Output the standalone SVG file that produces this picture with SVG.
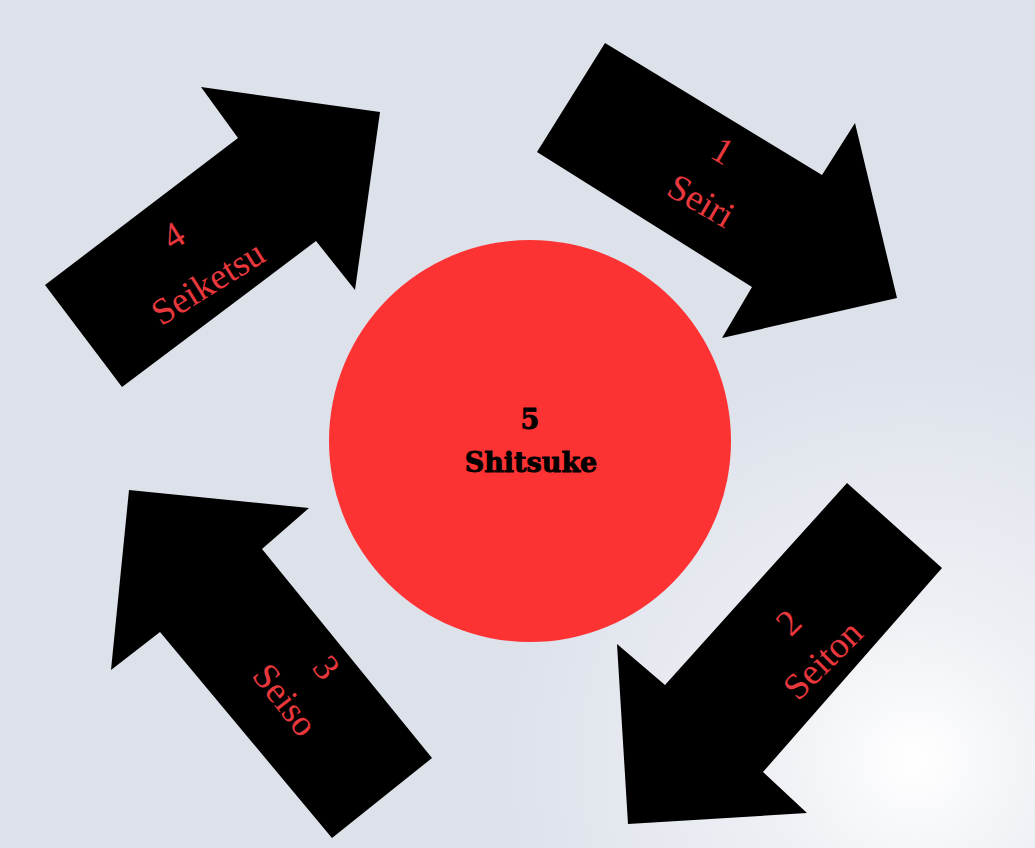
<svg xmlns="http://www.w3.org/2000/svg" width="1035" height="848" viewBox="0 0 1035 848">
  <defs>
    <radialGradient id="bgGlow" cx="915" cy="760" r="420" gradientUnits="userSpaceOnUse">
      <stop offset="0" stop-color="#ffffff"/>
      <stop offset="0.35" stop-color="#eef0f5"/>
      <stop offset="1" stop-color="#dde1ea"/>
    </radialGradient>
    <style>
      .arrow { fill: #000000; }
      .lbl { font-family: "Liberation Serif", "Times New Roman", serif; font-size: 37px; fill: #e8383d; text-anchor: middle; }
      .center { font-family: "DejaVu Serif", "Liberation Serif", serif; font-weight: bold; font-size: 27px; fill: #000000; stroke: #000000; stroke-width: 0.9; text-anchor: middle; }
    </style>
  </defs>
  <rect x="0" y="0" width="1035" height="848" fill="url(#bgGlow)"/>

  <g id="node-shitsuke">
    <circle cx="530" cy="441" r="201" fill="#fd3333"/>
    <text class="center" x="530" y="429">5</text>
    <text class="center" x="531" y="472">Shitsuke</text>
  </g>

  <g id="connectors">
    <g id="arrow-seiri">
      <polygon class="arrow" points="605,43 822,175 855,123 897,298 722,338 752,287 537,152"/>
      <g transform="translate(723,150) rotate(30)"><text class="lbl" x="0" y="13">1</text></g>
      <g transform="translate(701,201) rotate(30)"><text class="lbl" x="0" y="12">Seiri</text></g>
    </g>
    <g id="arrow-seiton">
      <polygon class="arrow" points="847,483 942,568 763,772 807,813 628,824 617,644 665,685"/>
      <g transform="translate(788,622) rotate(-45)"><text class="lbl" x="0" y="13">2</text></g>
      <g transform="translate(823,660) rotate(-45)"><text class="lbl" x="0" y="12">Seiton</text></g>
    </g>
    <g id="arrow-seiso">
      <polygon class="arrow" points="129,490 309,508 262,549 432,758 332,838 160,632 111,670"/>
      <g transform="translate(327,667) rotate(52)"><text class="lbl" x="0" y="13">3</text></g>
      <g transform="translate(285,700) rotate(52)"><text class="lbl" x="0" y="12">Seiso</text></g>
    </g>
    <g id="arrow-seiketsu">
      <polygon class="arrow" points="45,285 238,138 201,87 380,112 355,290 316,241 122,387"/>
      <g transform="translate(173,235) rotate(-32)"><text class="lbl" x="0" y="13">4</text></g>
      <g transform="translate(208,283) rotate(-32)"><text class="lbl" x="0" y="12">Seiketsu</text></g>
    </g>
  </g>
</svg>
